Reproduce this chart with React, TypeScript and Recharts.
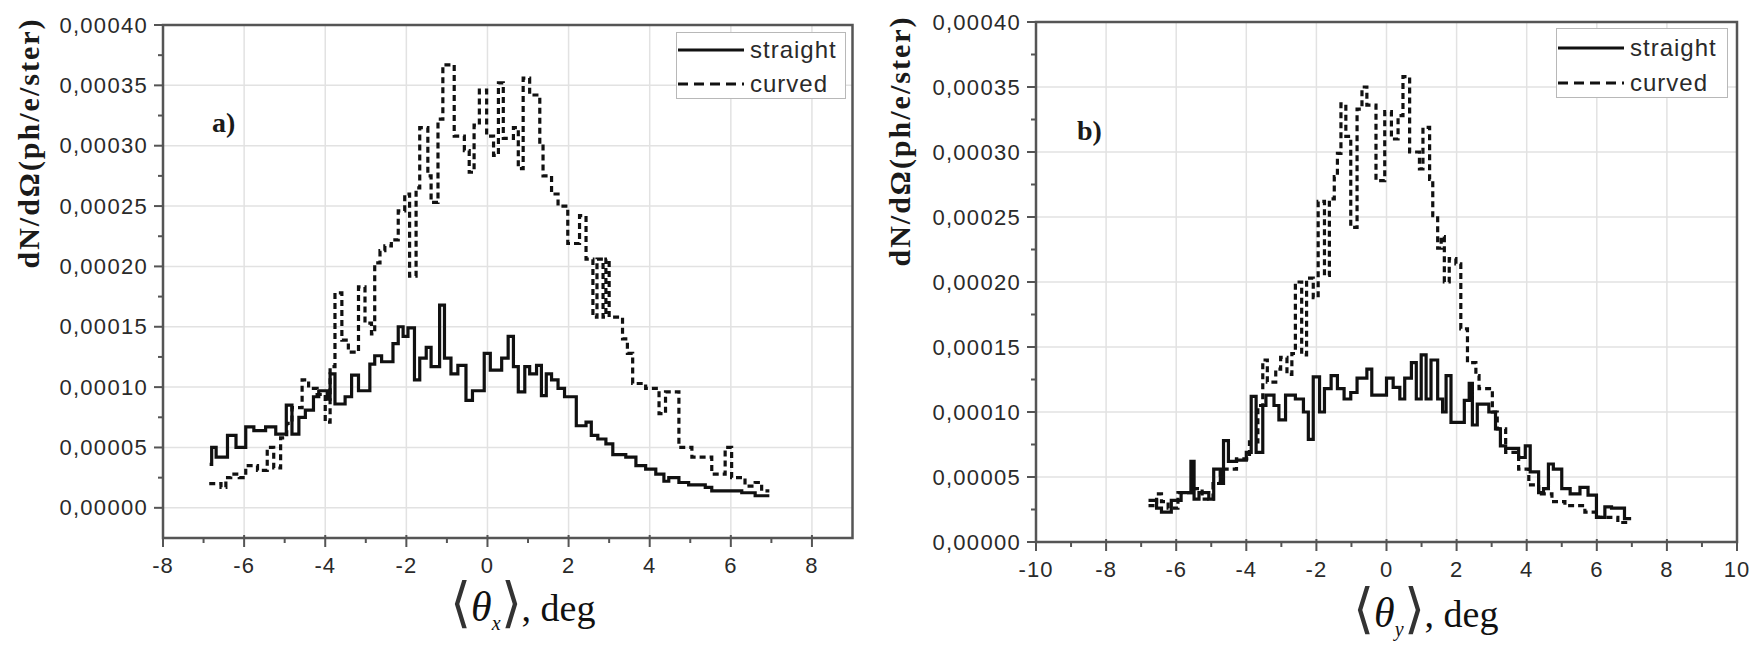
import React from 'react';
import { LineChart, Line, XAxis, YAxis, CartesianGrid, ReferenceArea } from 'recharts';

// values in units of 1e-5 ph/e/ster, [angle (deg), value]
const straightX: number[][] = [
  [-6.85, 3.6], [-6.8, 5.0], [-6.69, 4.2], [-6.41, 6.0], [-6.2, 5.0], [-5.96, 6.7], [-5.76, 6.4],
  [-5.47, 6.7], [-5.22, 6.1], [-4.96, 8.5], [-4.82, 6.1], [-4.65, 7.5], [-4.49, 8.1], [-4.29, 9.2],
  [-4.16, 9.7], [-3.95, 9.0], [-3.88, 11.1], [-3.76, 8.6], [-3.51, 9.2], [-3.35, 11.0], [-3.18, 9.7],
  [-2.9, 11.9], [-2.78, 12.6], [-2.61, 12.1], [-2.33, 13.6], [-2.2, 15.0], [-2.08, 14.2], [-1.96, 14.9],
  [-1.8, 10.6], [-1.67, 12.4], [-1.51, 13.3], [-1.39, 11.7], [-1.18, 16.8], [-1.06, 12.4], [-0.9, 11.1],
  [-0.73, 11.8], [-0.53, 8.9], [-0.37, 9.7], [-0.08, 12.8], [0.07, 11.4], [0.35, 12.4], [0.51, 14.2],
  [0.64, 11.7], [0.76, 9.6], [0.92, 11.7], [1.04, 11.1], [1.21, 11.8], [1.33, 9.3], [1.45, 11.1],
  [1.58, 10.6], [1.74, 9.9], [1.9, 9.2], [2.19, 6.8], [2.43, 7.1], [2.56, 6.0], [2.72, 5.7], [2.92, 5.3],
  [3.09, 4.4], [3.41, 4.2], [3.66, 3.5], [3.9, 3.2], [4.15, 2.8], [4.35, 2.2], [4.47, 2.5], [4.72, 2.1],
  [4.96, 1.9], [5.37, 1.7], [5.53, 1.4], [6.27, 1.25], [6.6, 1.0], [6.95, 1.0],
];

const curvedX: number[][] = [
  [-6.86, 2.0], [-6.57, 1.7], [-6.45, 2.5], [-6.33, 2.8], [-6.12, 2.5], [-5.96, 3.5], [-5.67, 3.1],
  [-5.43, 5.0], [-5.27, 3.3], [-5.1, 5.8], [-4.95, 7.0], [-4.82, 8.3], [-4.57, 10.6], [-4.41, 9.9],
  [-4.2, 9.4], [-4.0, 7.1], [-3.88, 11.7], [-3.76, 17.8], [-3.59, 13.9], [-3.43, 12.9], [-3.18, 18.3],
  [-3.02, 15.3], [-2.86, 14.4], [-2.78, 20.3], [-2.65, 21.3], [-2.53, 21.7], [-2.37, 22.2], [-2.2, 24.6],
  [-2.04, 26.0], [-1.92, 19.2], [-1.76, 26.5], [-1.67, 31.5], [-1.47, 27.5], [-1.39, 25.3], [-1.22, 32.2],
  [-1.1, 36.7], [-0.82, 30.8], [-0.57, 29.6], [-0.45, 27.8], [-0.33, 31.7], [-0.2, 34.6], [-0.02, 30.8],
  [0.15, 29.2], [0.27, 35.2], [0.39, 30.6], [0.64, 31.5], [0.76, 28.1], [0.88, 35.6], [1.04, 34.2],
  [1.29, 30.3], [1.37, 27.5], [1.58, 26.0], [1.74, 25.0], [1.98, 21.9], [2.27, 24.2], [2.43, 20.6],
  [2.6, 15.8], [2.7, 20.6], [2.85, 15.8], [2.92, 20.6], [3.0, 15.8], [3.33, 14.0], [3.45, 12.8],
  [3.58, 10.3], [3.9, 9.9], [4.23, 7.8], [4.39, 9.6], [4.72, 5.0], [5.04, 4.2], [5.53, 2.8], [5.86, 5.0],
  [6.02, 2.5], [6.35, 1.8], [6.6, 2.1], [6.76, 1.4], [6.95, 1.4],
];

const straightY: number[][] = [
  [-6.79, 3.2], [-6.56, 2.6], [-6.42, 2.3], [-6.14, 3.2], [-5.86, 3.8], [-5.58, 6.2], [-5.49, 3.3],
  [-5.35, 3.8], [-5.07, 3.3], [-4.93, 5.6], [-4.74, 4.5], [-4.65, 7.8], [-4.51, 6.2], [-4.28, 6.3],
  [-4.0, 6.9], [-3.86, 11.2], [-3.72, 6.9], [-3.53, 10.5], [-3.44, 11.3], [-3.21, 10.5], [-3.07, 9.4],
  [-2.88, 11.3], [-2.6, 11.0], [-2.37, 10.0], [-2.23, 7.9], [-2.09, 12.7], [-1.91, 10.0], [-1.77, 11.8],
  [-1.58, 12.8], [-1.4, 11.8], [-1.21, 11.0], [-1.02, 11.5], [-0.84, 12.6], [-0.56, 13.3], [-0.42, 11.3],
  [0.0, 12.6], [0.19, 11.9], [0.38, 11.0], [0.52, 12.6], [0.71, 13.8], [0.85, 11.0], [0.99, 14.4],
  [1.13, 11.0], [1.27, 14.0], [1.46, 11.0], [1.6, 10.0], [1.7, 12.8], [1.84, 9.2], [2.22, 10.9],
  [2.36, 12.2], [2.45, 9.0], [2.59, 10.6], [2.92, 10.0], [3.11, 8.7], [3.25, 7.4], [3.4, 7.2], [3.77, 6.5],
  [3.96, 7.4], [4.1, 5.4], [4.34, 3.8], [4.48, 4.1], [4.62, 6.0], [4.76, 5.6], [5.0, 4.1], [5.24, 3.7],
  [5.52, 4.2], [5.75, 3.6], [5.99, 1.9], [6.23, 2.7], [6.42, 2.6], [6.79, 1.8], [6.98, 1.8],
];

const curvedY: number[][] = [
  [-6.79, 2.8], [-6.56, 3.7], [-6.42, 3.1], [-6.23, 2.6], [-5.95, 3.8], [-5.49, 4.1], [-5.26, 3.3],
  [-4.95, 4.5], [-4.74, 5.6], [-4.28, 6.4], [-3.91, 7.7], [-3.67, 10.5], [-3.53, 14.0], [-3.4, 12.3],
  [-3.16, 13.3], [-3.02, 14.2], [-2.84, 12.9], [-2.7, 14.5], [-2.6, 20.0], [-2.42, 14.4], [-2.28, 20.3],
  [-2.09, 18.8], [-1.95, 26.2], [-1.77, 20.5], [-1.63, 26.4], [-1.49, 28.1], [-1.4, 29.9], [-1.3, 33.7],
  [-1.16, 31.2], [-1.02, 24.2], [-0.84, 33.3], [-0.7, 35.0], [-0.56, 33.6], [-0.3, 27.8], [-0.05, 33.1],
  [0.14, 31.0], [0.33, 32.8], [0.47, 35.8], [0.66, 30.0], [0.94, 28.7], [1.04, 31.9], [1.23, 27.9],
  [1.32, 25.1], [1.46, 22.6], [1.56, 23.5], [1.65, 20.0], [1.79, 21.8], [1.98, 21.4], [2.12, 16.4],
  [2.31, 13.8], [2.55, 12.8], [2.64, 11.8], [3.02, 10.0], [3.16, 8.7], [3.4, 6.9], [3.77, 5.6],
  [4.06, 4.4], [4.34, 3.7], [4.72, 3.1], [5.09, 2.8], [5.66, 2.3], [6.04, 1.9], [6.6, 1.5], [6.98, 1.5],
];

const xTicksA = [-8, -7, -6, -5, -4, -3, -2, -1, 0, 1, 2, 3, 4, 5, 6, 7, 8];
const xTicksB = [-10, -9, -8, -7, -6, -5, -4, -3, -2, -1, 0, 1, 2, 3, 4, 5, 6, 7, 8, 9, 10];
const yTicks = [0, 2.5, 5, 7.5, 10, 12.5, 15, 17.5, 20, 22.5, 25, 27.5, 30, 32.5, 35, 37.5, 40];
const gridXA = [-6, -4, -2, 0, 2, 4, 6, 8];
const gridXB = [-8, -6, -4, -2, 0, 2, 4, 6, 8];
const gridY = [0, 5, 10, 15, 20, 25, 30, 35];

const SANS = '"Liberation Sans", Arial, sans-serif';
const SERIF = '"Liberation Serif", "Times New Roman", serif';
const AXIS = '#555';

const toPoints = (pairs: number[][]) => pairs.map(([x, y]) => ({ x, y }));

const renderXTick = (p: any) => {
  const { x, y, payload } = p;
  const v = payload.value;
  const major = v % 2 === 0;
  return (
    <g key={`xt-${v}`}>
      <line x1={x} x2={x} y1={y - (major ? 3 : 0)} y2={y + (major ? 9 : 5)} stroke={AXIS} strokeWidth={2} />
      {major && (
        <text x={x} y={y + 35} textAnchor="middle" fontSize={22} fill="#2a2a2a" fontFamily={SANS} letterSpacing={1}>
          {v}
        </text>
      )}
    </g>
  );
};

const renderYTick = (p: any) => {
  const { x, y, payload } = p;
  const v = payload.value;
  const major = Math.abs(v % 5) < 1e-6;
  return (
    <g key={`yt-${v}`}>
      <line x1={x - (major ? 9 : 5)} x2={x} y1={y} y2={y} stroke={AXIS} strokeWidth={2} />
      {major && (
        <text x={x - 15} y={y + 7.5} textAnchor="end" fontSize={22} fill="#2a2a2a" fontFamily={SANS} letterSpacing={1.3}>
          {(v * 1e-5).toFixed(5).replace('.', ',')}
        </text>
      )}
    </g>
  );
};

interface PanelProps {
  width: number;
  yAxisWidth: number;
  top: number;
  right: number;
  xAxisHeight: number;
  xDomain: [number, number];
  yDomain: [number, number];
  xTicks: number[];
  gridX: number[];
  straight: number[][];
  curved: number[][];
}

const Panel = ({ width, yAxisWidth, top, right, xAxisHeight, xDomain, yDomain, xTicks, gridX, straight, curved }: PanelProps) => (
  <LineChart width={width} height={653} margin={{ top, right, left: 0, bottom: 0 }}>
    <CartesianGrid stroke="#e2e2e2" strokeWidth={1.5} verticalValues={gridX} horizontalValues={gridY} />
    <XAxis
      type="number"
      dataKey="x"
      domain={xDomain}
      ticks={xTicks}
      interval={0}
      allowDataOverflow
      height={xAxisHeight}
      axisLine={false}
      tickLine={false}
      tickSize={0}
      tickMargin={0}
      tick={renderXTick}
    />
    <YAxis
      type="number"
      domain={yDomain}
      ticks={yTicks}
      interval={0}
      allowDataOverflow
      width={yAxisWidth}
      axisLine={false}
      tickLine={false}
      tickSize={0}
      tickMargin={0}
      tick={renderYTick}
    />
    <ReferenceArea
      x1={xDomain[0]}
      x2={xDomain[1]}
      y1={yDomain[0]}
      y2={yDomain[1]}
      fill="none"
      stroke={AXIS}
      strokeWidth={2.5}
      ifOverflow="visible"
    />
    <Line
      data={toPoints(curved)}
      dataKey="y"
      type="stepAfter"
      stroke="#111"
      strokeWidth={3.2}
      strokeDasharray="6 4"
      dot={false}
      isAnimationActive={false}
    />
    <Line
      data={toPoints(straight)}
      dataKey="y"
      type="stepAfter"
      stroke="#111"
      strokeWidth={3.2}
      dot={false}
      isAnimationActive={false}
    />
  </LineChart>
);

const LegendBox = ({ left, top, width, height, rows }: { left: number; top: number; width: number; height: number; rows: number[] }) => (
  <div
    style={{
      position: 'absolute',
      left,
      top,
      width,
      height,
      border: '1.5px solid #b8b8b8',
      boxSizing: 'border-box',
      background: '#fff',
    }}
  >
    {[
      { label: 'straight', dash: undefined as string | undefined },
      { label: 'curved', dash: '10 6' },
    ].map((r, i) => (
      <div key={r.label} style={{ position: 'absolute', left: 0, top: rows[i] - 14, height: 28, width: width - 3 }}>
        <svg width={68} height={28} style={{ position: 'absolute', left: 0, top: 0 }}>
          <line x1={1} x2={67} y1={14} y2={14} stroke="#111" strokeWidth={3.2} strokeDasharray={r.dash} />
        </svg>
        <span
          style={{
            position: 'absolute',
            left: 73,
            top: 0,
            lineHeight: '28px',
            fontFamily: SANS,
            fontSize: 24,
            letterSpacing: 1,
            color: '#2a2a2a',
          }}
        >
          {r.label}
        </span>
      </div>
    ))}
  </div>
);

const YTitle = ({ cx, cy }: { cx: number; cy: number }) => (
  <div
    style={{
      position: 'absolute',
      left: cx,
      top: cy,
      transform: 'translate(-50%, -50%) rotate(-90deg)',
      whiteSpace: 'nowrap',
      fontFamily: SERIF,
      fontWeight: 'bold',
      fontSize: 30,
      letterSpacing: 2,
      color: '#1a1a1a',
    }}
  >
    dN/dΩ(ph/e/ster)
  </div>
);

const XTitle = ({ left, top, sub }: { left: number; top: number; sub: string }) => (
  <div style={{ position: 'absolute', left, top, whiteSpace: 'nowrap', fontFamily: SERIF, fontSize: 38, color: '#111', lineHeight: 1 }}>
    <span style={{ fontSize: 54, fontWeight: 100, color: '#333' }}>⟨</span>
    <i style={{ fontSize: 42 }}>θ</i>
    <sub style={{ fontSize: 20, fontStyle: 'italic' }}>{sub}</sub>
    <span style={{ fontSize: 54, fontWeight: 100, color: '#333' }}>⟩</span>
    <span>, deg</span>
  </div>
);

const PanelTag = ({ left, top, text }: { left: number; top: number; text: string }) => (
  <div style={{ position: 'absolute', left, top, fontFamily: SERIF, fontWeight: 'bold', fontSize: 28, color: '#1a1a1a', lineHeight: 1 }}>
    {text}
  </div>
);

export default function App() {
  return (
    <div style={{ position: 'absolute', left: 0, top: 0, width: 1755, height: 653, background: '#fff', overflow: 'hidden' }}>
      <div style={{ position: 'absolute', left: 0, top: 0 }}>
        <Panel
          width={870}
          yAxisWidth={163}
          top={25}
          right={17.5}
          xAxisHeight={115}
          xDomain={[-8, 9]}
          yDomain={[-2.5, 40]}
          xTicks={xTicksA}
          gridX={gridXA}
          straight={straightX}
          curved={curvedX}
        />
      </div>
      <div style={{ position: 'absolute', left: 880, top: 0 }}>
        <Panel
          width={875}
          yAxisWidth={156}
          top={22}
          right={18}
          xAxisHeight={111}
          xDomain={[-10, 10]}
          yDomain={[0, 40]}
          xTicks={xTicksB}
          gridX={gridXB}
          straight={straightY}
          curved={curvedY}
        />
      </div>
      <LegendBox left={676} top={32} width={170} height={67} rows={[17, 51]} />
      <LegendBox left={1556} top={28} width={172} height={70} rows={[19, 54]} />
      <YTitle cx={29} cy={143} />
      <YTitle cx={900} cy={141} />
      <XTitle left={450} top={576} sub="x" />
      <XTitle left={1353} top={582} sub="y" />
      <PanelTag left={212} top={109} text="a)" />
      <PanelTag left={1077} top={117} text="b)" />
    </div>
  );
}
